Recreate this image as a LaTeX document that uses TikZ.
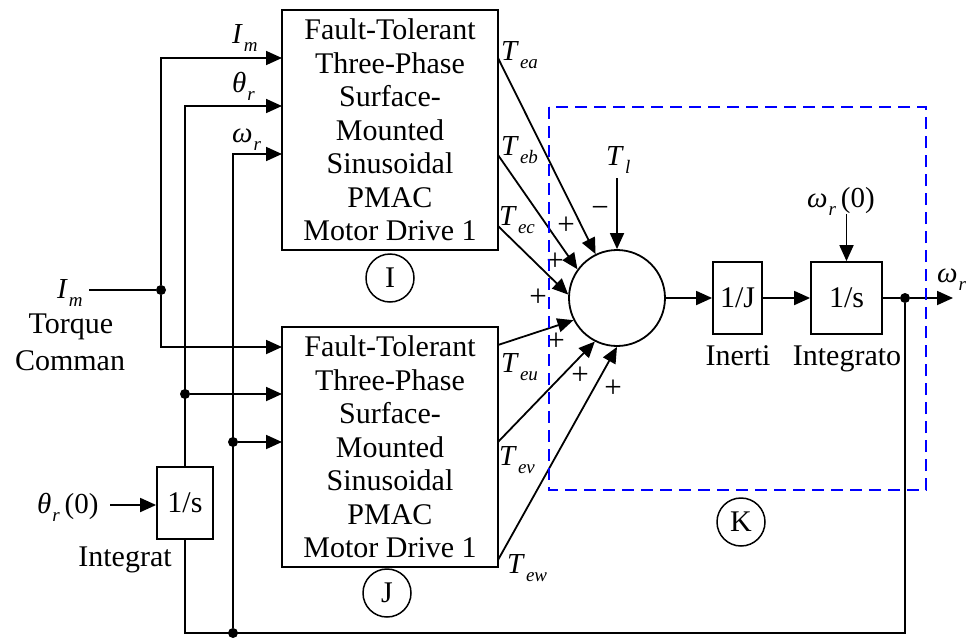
\documentclass[tikz,border=0pt]{standalone}
\usepackage{fontspec}
\setmainfont{Liberation Serif}
\usetikzlibrary{arrows.meta,calc}
\newcommand\Sy[2]{\textit{#1}\kern1pt\raisebox{-8pt}{\fontsize{19}{19}\selectfont\textit{#2}}}
\begin{document}
\begin{tikzpicture}[x=1pt,y=-1pt,
  wire/.style={line width=1.8pt},
  arr/.style={wire,-{Triangle[length=16pt,width=14pt]}},
  blk/.style={draw,line width=1.8pt,inner sep=0pt,font=\fontsize{30}{33.5}\selectfont,align=center},
  lbl/.style={inner sep=0pt,font=\fontsize{29}{29}\selectfont},
  txt/.style={inner sep=0pt,font=\fontsize{30}{30}\selectfont},
  tag/.style={draw,circle,line width=1.5pt,minimum size=48pt,inner sep=0pt,font=\fontsize{30}{30}\selectfont},
  sgn/.style={inner sep=0pt,font=\fontsize{31}{31}\selectfont},
  dot/.style={circle,fill,inner sep=0pt,minimum size=10pt}]
\useasboundingbox (0,0) rectangle (966,637);

% blocks
\node[blk,minimum width=216pt,minimum height=240pt] (drA) at (390,130)
  {Fault-Tolerant\\Three-Phase\\Surface-\\Mounted\\Sinusoidal\\PMAC\\Motor Drive 1};
\node[blk,minimum width=216pt,minimum height=240pt] (drB) at (390,447)
  {Fault-Tolerant\\Three-Phase\\Surface-\\Mounted\\Sinusoidal\\PMAC\\Motor Drive 1};
\node[blk,minimum width=56pt,minimum height=72pt] (intB) at (185,503) {1/s};
\node[draw,circle,line width=1.8pt,minimum size=96pt,inner sep=0pt] (sum) at (617,298) {};
\node[blk,minimum width=49pt,minimum height=72pt] (inr) at (737.5,298) {1/J};
\node[blk,minimum width=71pt,minimum height=72pt] (intA) at (846.5,298) {1/s};

\node[tag] (cI) at (390,278) {I};
\node[tag] (cJ) at (387,593) {J};
\node[tag] (cK) at (741,522) {K};

% labels
\node[lbl,anchor=base west] (lImL) at (57,298) {\Sy{I}{m}};
\node[txt,anchor=base] (lTorque) at (71,333) {Torque};
\node[txt,anchor=base] (lComman) at (70,370) {Comman};
\node[lbl,anchor=base west] (lth0) at (37,513) {\Sy{θ}{r}\,(0)};
\node[txt,anchor=base] (lIntB) at (125,566) {Integrat};
\node[lbl,anchor=base west] (lImA) at (232,43) {\Sy{I}{m}};
\node[lbl,anchor=base west] (lthA) at (232,92) {\Sy{θ}{r}};
\node[lbl,anchor=base west] (lwA) at (232,142) {\Sy{ω}{r}};
\node[lbl,anchor=base west] (lTea) at (501,60) {\Sy{T}{ea}};
\node[lbl,anchor=base west] (lTeb) at (501,155) {\Sy{T}{eb}};
\node[lbl,anchor=base west] (lTec) at (499,225) {\Sy{T}{ec}};
\node[lbl,anchor=base west] (lTeu) at (501,372) {\Sy{T}{eu}};
\node[lbl,anchor=base west] (lTev) at (499,465) {\Sy{T}{ev}};
\node[lbl,anchor=base west] (lTew) at (507,573) {\Sy{T}{ew}};
\node[lbl,anchor=base west] (lTl) at (606,165) {\Sy{T}{l}};
\node[lbl,anchor=base west] (lw0) at (807,207) {\Sy{ω}{r}\,(0)};
\node[lbl,anchor=base west] (lwO) at (937,282) {\Sy{ω}{r}};
\node[txt,anchor=base] (lInr) at (738,365) {Inerti};
\node[txt,anchor=base] (lIntA) at (847,365) {Integrato};

% signs
\node[sgn] (s1) at (566,226) {+};
\node[sgn] (s2) at (555,262) {+};
\node[sgn] (s3) at (538,298) {+};
\node[sgn] (s4) at (556,342) {+};
\node[sgn] (s5) at (580,376) {+};
\node[sgn] (s6) at (613,389) {+};
\node[sgn] (sm) at (600,212) {−};

% junctions and ports
\node[dot] (jIm) at (161,290) {};
\node[dot] (jTh) at (185,394) {};
\node[dot] (jW) at (233,442) {};
\node[dot] (jBot) at (233,633) {};
\node[dot] (jOut) at (905,298) {};
\coordinate (imSrc) at (89,290);
\coordinate (pAi) at (282,58);
\coordinate (pAt) at (282,106);
\coordinate (pAw) at (282,154);
\coordinate (pBi) at (282,347);
\coordinate (pBt) at (282,394);
\coordinate (pBw) at (282,442);
\coordinate (oAa) at (498,58);
\coordinate (oAb) at (498,155);
\coordinate (oAc) at (498,226);
\coordinate (oBu) at (498,345);
\coordinate (oBv) at (498,442);
\coordinate (oBw) at (498,560);
\coordinate (cBL) at (185,633);
\coordinate (cBR) at (905,633);
\coordinate (thSrc) at (110,505);
\coordinate (tlSrc) at (617,178);
\coordinate (w0Src) at (846.5,214);
\coordinate (wOut) at (953,298);

% wires
\draw[wire] (imSrc) -- (jIm);
\draw[arr] (jIm) |- (pAi);
\draw[arr] (jIm) |- (pBi);
\draw[arr] (intB.north) |- (pAt);
\draw[arr] (jTh) -- (pBt);
\draw[arr] (jBot) |- (pAw);
\draw[arr] (jW) -- (pBw);
\draw[wire] (jOut) -- (cBR) -- (cBL) -- (intB.south);
\draw[arr] (thSrc) -- (intB.west |- thSrc);

\draw[arr] (oAa) -- (sum.116);
\draw[arr] (oAb) -- (sum.144);
\draw[arr] (oAc) -- (sum.176);
\draw[arr] (oBu) -- (sum.207);
\draw[arr] (oBv) -- (sum.243);
\draw[arr] (oBw) -- (sum.270);
\draw[arr] (tlSrc) -- (sum.north);
\draw[arr] (sum.east) -- (inr.west);
\draw[arr] (inr.east) -- (intA.west);
\draw[arr] (w0Src) -- (intA.north);
\draw[wire] (intA.east) -- (jOut);
\draw[arr] (jOut) -- (wOut);

% group box
\draw[blue,line width=2.5pt,dash pattern=on 12pt off 7pt] (549,107) rectangle (926,490);
\end{tikzpicture}
\end{document}
